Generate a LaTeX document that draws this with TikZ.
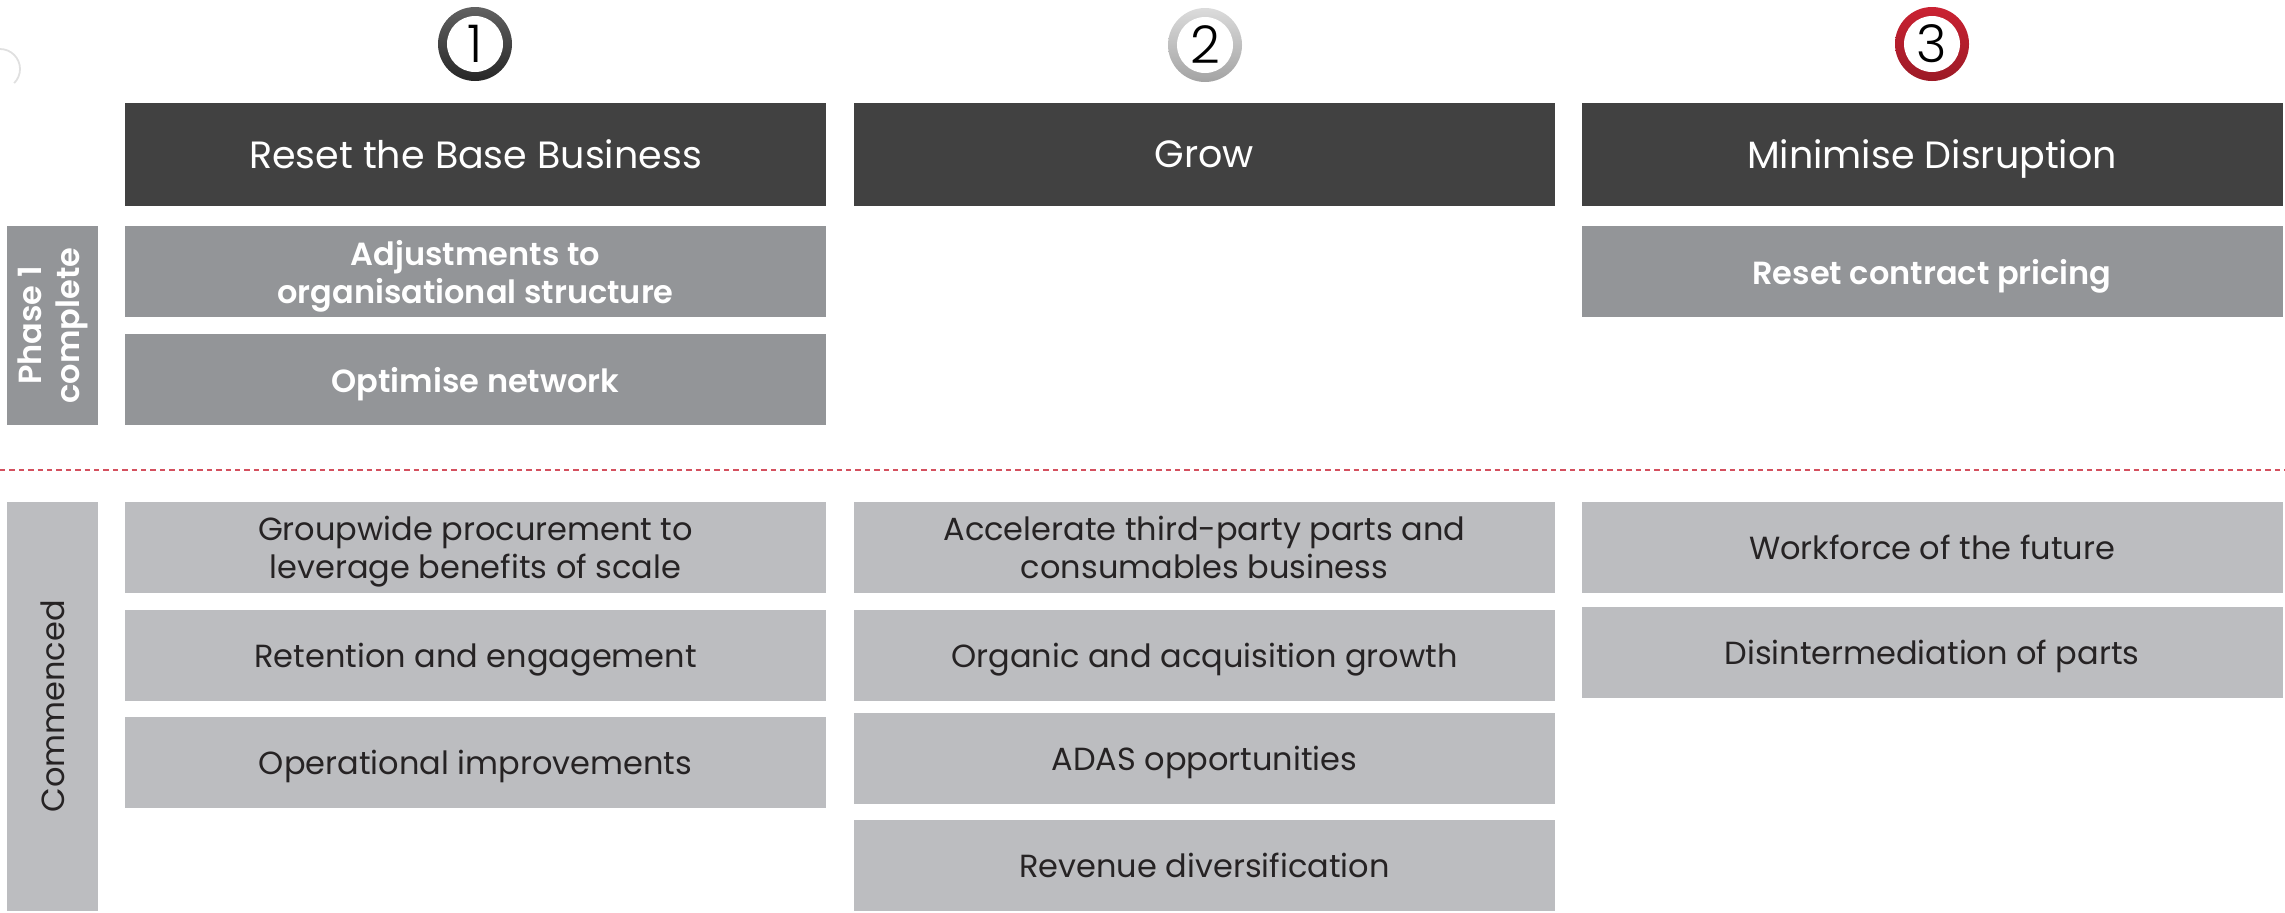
\documentclass[tikz,border=0pt]{standalone}
\usepackage{fontspec}
\setmainfont{Poppins}[BoldFont=Poppins SemiBold]
\newfontfamily\numfont{Poppins Light}
\definecolor{hdrgrey}{HTML}{414141}
\definecolor{donegrey}{HTML}{939598}
\definecolor{opengrey}{HTML}{BCBDC0}
\definecolor{txtgrey}{HTML}{262324}
\definecolor{splitred}{HTML}{D4505E}
\definecolor{redtop}{HTML}{CA2232}
\definecolor{redbot}{HTML}{9C1A26}

\begin{document}
\begin{tikzpicture}[x=0.5pt, y=-0.5pt,
    head/.style={fill=hdrgrey, text=white, inner sep=0pt, minimum width=350.5pt,
      minimum height=51.5pt, text depth=0pt, font=\fontsize{19}{22}\selectfont},
    done/.style={fill=donegrey, text=white, inner sep=0pt, minimum width=350.5pt,
      minimum height=45.5pt, text depth=0pt, align=center,
      font=\fontsize{16}{19}\selectfont\bfseries},
    open/.style={fill=opengrey, text=txtgrey, inner sep=0pt, minimum width=350.5pt,
      minimum height=45.5pt, text depth=0pt, align=center,
      font=\fontsize{16}{19}\selectfont},
    side/.style={rotate=90, inner sep=0pt, minimum height=45.5pt, align=center},
    ring/.style={circle, inner sep=0pt, minimum size=37pt},
    num/.style={circle, fill=white, inner sep=0pt, minimum size=28pt,
      font=\numfont\fontsize{26}{26}\selectfont}]
  \useasboundingbox (0,0) rectangle (2285,912);

  % faint mark in the corner
  \coordinate (mk) at (0,49);
  \draw [black!12, line width=0.9pt] (mk) arc [start angle=90, end angle=-45, radius=10pt];

  % numbered rings
  \node (R1) [ring, top color=black!62, bottom color=black!85] at (475,44) {};
  \node (N1) [num] at (R1) {1};
  \node (R2) [ring, top color=black!14, bottom color=black!36] at (1205,45) {};
  \node (N2) [num] at (R2) {2};
  \node (R3) [ring, top color=redtop, bottom color=redbot] at (1932,44) {};
  \node (N3) [num] at (R3) {3};

  % headers
  \node (H1) [head] at (475.5,154.5) {Reset the Base Business};
  \node (H2) [head] at (1204.5,154.5) {Grow};
  \node (H3) [head] at (1932,154.5) {Minimise Disruption};

  % phase 1
  \node (P1) [side, fill=donegrey, text=white, minimum width=99.5pt,
    font=\fontsize{16}{19}\selectfont\bfseries] at (52.5,325.5) {Phase 1\\complete};
  \node (PA) [done] at (475.5,271.5) {Adjustments to\\organisational structure};
  \node (PB) [done] at (475.5,379.5) {Optimise network};
  \node (PC) [done] at (1932,271.5) {Reset contract pricing};

  \coordinate (SL) at (0,470);
  \coordinate (SR) at (2285,470);
  \draw [splitred, line width=0.75pt, dash pattern=on 2.7pt off 2pt] (SL) -- (SR);

  % commenced
  \node (CM) [side, fill=opengrey, text=txtgrey, minimum width=204.5pt,
    font=\fontsize{16}{19}\selectfont] at (52.5,706.5) {Commenced};
  \node (A1) [open] at (475.5,547.5) {Groupwide procurement to\\leverage benefits of scale};
  \node (A2) [open] at (475.5,655.5) {Retention and engagement};
  \node (A3) [open] at (475.5,762.5) {Operational improvements};
  \node (B1) [open] at (1204.5,547.5) {Accelerate third-party parts and\\consumables business};
  \node (B2) [open] at (1204.5,655.5) {Organic and acquisition growth};
  \node (B3) [open] at (1204.5,758.5) {ADAS opportunities};
  \node (B4) [open] at (1204.5,865.5) {Revenue diversification};
  \node (C1) [open] at (1932,547.5) {Workforce of the future};
  \node (C2) [open] at (1932,652.5) {Disintermediation of parts};
\end{tikzpicture}
\end{document}
